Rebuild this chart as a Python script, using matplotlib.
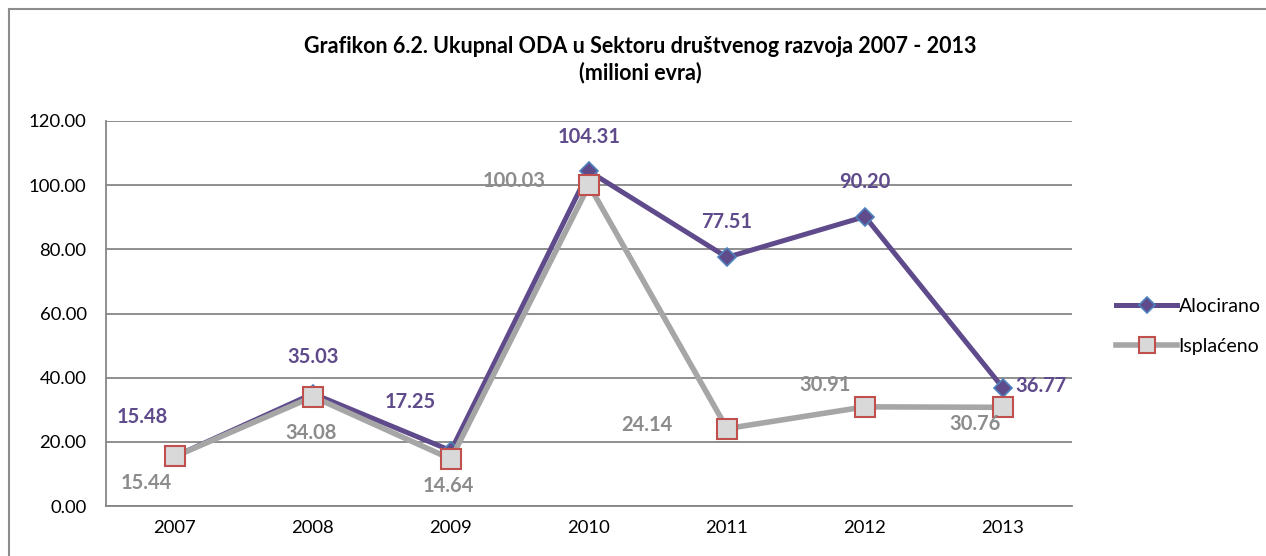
import matplotlib
matplotlib.use('Agg')
import matplotlib.pyplot as plt
from matplotlib.lines import Line2D

years = ['2007', '2008', '2009', '2010', '2011', '2012', '2013']
alocirano = [15.48, 35.03, 17.25, 104.31, 77.51, 90.20, 36.77]
isplaceno = [15.44, 34.08, 14.64, 100.03, 24.14, 30.91, 30.76]

# label offsets in pixels (dx, dy)
aloc_off = [(-33, 39), (0, 37), (-41, 49), (0, 34), (0, 35), (0, 35), (38, 2)]
ispl_off = [(-29, -27), (-2, -36), (-3, -27), (-75, 4), (-80, 4), (-40, 22), (-28, -17)]

purple = '#5f4b8b'
gray = '#a6a6a6'
grid_c = '#868686'

plt.rcParams['font.family'] = ['Lato', 'DejaVu Sans']

fig = plt.figure(figsize=(12.66, 5.56), dpi=100)
ax = fig.add_axes([0.0837, 0.0899, 0.7631, 0.6925])

x = list(range(len(years)))
ax.plot(x, alocirano, color=purple, lw=3.6, marker='D', ms=9,
        mfc=purple, mec='#4f81bd', mew=1.2, zorder=3)
ax.plot(x, isplaceno, color=gray, lw=4, marker='s', ms=14,
        mfc='#d9d9d9', mec='#c0504d', mew=1.5, zorder=4)

for i, v in enumerate(alocirano):
    ax.annotate(f'{v:.2f}', (i, v), xytext=aloc_off[i], textcoords='offset pixels',
                ha='center', va='center', fontsize=14.5, fontweight='bold', color=purple,
                zorder=5, annotation_clip=False)
for i, v in enumerate(isplaceno):
    ax.annotate(f'{v:.2f}', (i, v), xytext=ispl_off[i], textcoords='offset pixels',
                ha='center', va='center', fontsize=14.5, fontweight='bold', color='#8c8c8c',
                zorder=5, annotation_clip=False)

ax.set_xlim(-0.5, len(years) - 0.5)
ax.set_ylim(0, 120)
ax.set_xticks(x)
ax.set_xticklabels(years)
ax.set_yticks(range(0, 121, 20))
ax.set_yticklabels([f'{t:.2f}' for t in range(0, 121, 20)])
ax.tick_params(length=0, labelsize=13.3, pad=10)
ax.tick_params(axis='y', pad=14)
ax.yaxis.grid(True, color=grid_c, lw=1.3)
ax.set_axisbelow(True)
for s in ['top', 'right']:
    ax.spines[s].set_visible(False)
for s in ['left', 'bottom']:
    ax.spines[s].set_color(grid_c)
    ax.spines[s].set_linewidth(1.3)

fig.text(0.506, 0.917, 'Grafikon 6.2. Ukupnal ODA u Sektoru društvenog razvoja 2007 - 2013',
         ha='center', va='center', fontsize=15.5, fontweight='bold')
fig.text(0.506, 0.87, '(milioni evra)', ha='center', va='center', fontsize=15.5, fontweight='bold')

handles = [
    Line2D([], [], color=purple, lw=3.6, marker='D', ms=8, mfc=purple, mec='#4f81bd', mew=1.2),
    Line2D([], [], color=gray, lw=4, marker='s', ms=11, mfc='#d9d9d9', mec='#c0504d', mew=1.5),
]
fig.legend(handles, ['Alocirano', 'Isplaćeno'], loc='center left',
           bbox_to_anchor=(0.868, 0.413), frameon=False, fontsize=14,
           handlelength=3.1, handletextpad=0.1, labelspacing=1.2)

# outer frame (left and top only visible)
fig.add_artist(Line2D([0.0071, 0.0071], [0, 0.984], color='#8c8c8c', lw=1.5))
fig.add_artist(Line2D([0.0071, 1.0], [0.984, 0.984], color='#8c8c8c', lw=1.5))

fig.savefig('out.png', dpi=100)
